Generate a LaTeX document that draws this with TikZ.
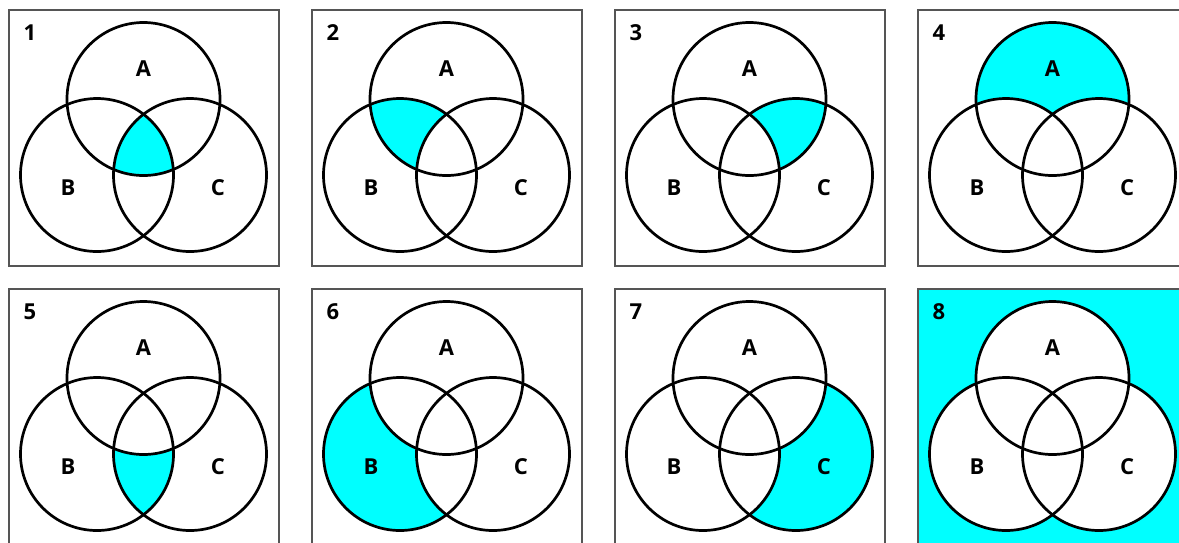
\documentclass[tikz,border=0pt]{standalone}
\usepackage{fontspec}
\newfontfamily\labfont{Open Sans}
\definecolor{vcyan}{RGB}{0,255,255}
\definecolor{vframe}{RGB}{85,85,85}
\newcommand{\labsize}{\fontsize{22pt}{24pt}\selectfont}
\tikzset{
  panelbox/.style={draw=vframe, line width=1.5pt},
  vcircle/.style={draw=black, line width=2.7pt},
  vlabel/.style={font={\labfont\bfseries\labsize}, inner sep=0pt, anchor=center},
  nlabel/.style={font={\labfont\bfseries\labsize}, inner sep=0pt, anchor=center}
}
\newcommand{\cA}{(134.5,89) circle[radius=76.5pt]}
\newcommand{\cB}{(88,165) circle[radius=76.5pt]}
\newcommand{\cC}{(181,165) circle[radius=76.5pt]}
% #1 x shift, #2 y shift, #3 number, #4 shading code, #5 name prefix
\newcommand{\vennpanel}[5]{%
  \begin{scope}[shift={(#1,#2)}]
    \fill[white] (0,0) rectangle (270,256);
    #4
    \draw[vcircle] \cA;
    \draw[vcircle] \cB;
    \draw[vcircle] \cC;
    \draw[panelbox] (0,0) rectangle (270,256);
    \node[nlabel] (#5n) at (21,23) {#3};
    \node[vlabel] (#5a) at (134.5,59) {A};
    \node[vlabel] (#5b) at (59,178) {B};
    \node[vlabel] (#5c) at (209,178) {C};
  \end{scope}}
\begin{document}
\begin{tikzpicture}[x=1pt,y=-1pt]
\clip (0,0) rectangle (1179,542);
\fill[white] (0,0) rectangle (1179,542);
% 1: A and B and C
\vennpanel{9}{10}{1}{\begin{scope}\clip \cA; \clip \cB; \fill[vcyan] \cC;\end{scope}}{p1}
% 2: A and B not C
\vennpanel{312}{10}{2}{\begin{scope}\clip \cA; \fill[vcyan] \cB; \fill[white] \cC;\end{scope}}{p2}
% 3: A and C not B
\vennpanel{615}{10}{3}{\begin{scope}\clip \cA; \fill[vcyan] \cC; \fill[white] \cB;\end{scope}}{p3}
% 4: A only
\vennpanel{918}{10}{4}{\fill[vcyan] \cA; \fill[white] \cB; \fill[white] \cC;}{p4}
% 5: B and C not A
\vennpanel{9}{289}{5}{\begin{scope}\clip \cB; \fill[vcyan] \cC; \fill[white] \cA;\end{scope}}{p5}
% 6: B only
\vennpanel{312}{289}{6}{\fill[vcyan] \cB; \fill[white] \cA; \fill[white] \cC;}{p6}
% 7: C only
\vennpanel{615}{289}{7}{\fill[vcyan] \cC; \fill[white] \cA; \fill[white] \cB;}{p7}
% 8: outside all
\vennpanel{918}{289}{8}{\fill[vcyan] (0,0) rectangle (270,256); \fill[white] \cA; \fill[white] \cB; \fill[white] \cC;}{p8}
\end{tikzpicture}
\end{document}
